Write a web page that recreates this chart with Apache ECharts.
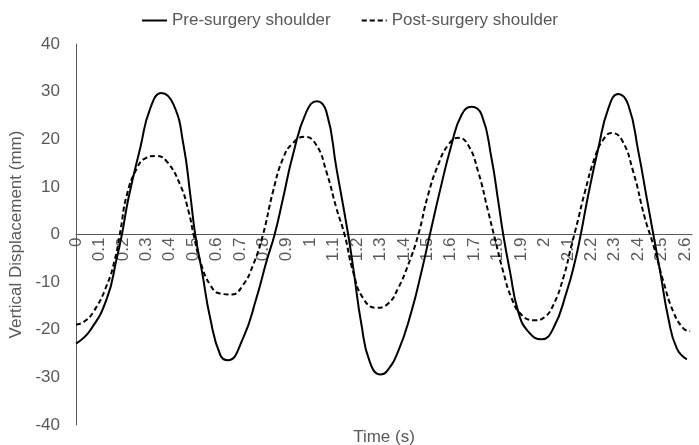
<!DOCTYPE html>
<html>
<head>
<meta charset="utf-8">
<script src="https://cdn.jsdelivr.net/npm/echarts@6/dist/echarts.min.js"></script>
<style>
  html, body { margin: 0; padding: 0; background: #fff; }
  #chart { width: 699px; height: 445px; }
</style>
</head>
<body>
<div id="chart"></div>
<script>
// 数据：从原图读取（时间 s，位移 mm）
var preTime = [0, 0.061, 0.132, 0.174, 0.196, 0.224, 0.274, 0.317, 0.365, 0.417, 0.459, 0.488, 0.509, 0.538, 0.573, 0.616, 0.648,
  0.713, 0.770, 0.813, 0.848, 0.884, 0.926, 0.984, 1.029, 1.069, 1.112, 1.162, 1.185, 1.219, 1.254, 1.300, 1.326,
  1.375, 1.432, 1.475, 1.511, 1.553, 1.603, 1.646, 1.689, 1.732, 1.774, 1.803, 1.824, 1.853, 1.888, 1.931, 1.988,
  2.038, 2.095, 2.130, 2.155, 2.187, 2.230, 2.273, 2.315, 2.358, 2.401, 2.437, 2.465, 2.494, 2.529, 2.565, 2.608]
var preValues = [-22.9, -20.1, -13.4, -5.0, 0, 7.6, 18.1, 26.5, 29.7, 27.2, 18.8, 8.3, 0, -7.8, -17.6, -25.3, -26.4,
  -21.8, -13.4, -5.7, 0, 7.6, 16.7, 25.8, 28.0, 25.8, 13.9, 0, -7.5, -19.0, -26.7, -29.4, -28.8,
  -24.6, -16.2, -7.8, 0, 9.0, 18.8, 25.1, 26.8, 25.1, 16.0, 6.9, 0, -7.8, -16.2, -20.4, -22.0,
  -19.7, -12.0, -5.7, 0, 8.3, 18.1, 26.5, 29.5, 27.2, 17.4, 7.6, 0, -7.8, -17.6, -23.9, -26.2]

var postTime = [0, 0.032, 0.075, 0.132, 0.167, 0.189, 0.217, 0.260, 0.296, 0.343, 0.388, 0.445, 0.481, 0.502, 0.531, 0.573, 0.616, 0.665,
  0.713, 0.756, 0.798, 0.841, 0.884, 0.926, 0.976, 1.026, 1.069, 1.112, 1.147, 1.183, 1.226, 1.283, 1.333,
  1.375, 1.418, 1.461, 1.503, 1.546, 1.589, 1.632, 1.674, 1.717, 1.760, 1.788, 1.824, 1.860, 1.903, 1.959, 2.002,
  2.038, 2.080, 2.116, 2.138, 2.173, 2.216, 2.251, 2.287, 2.330, 2.379, 2.429, 2.465, 2.508, 2.550, 2.593, 2.622]
var postValues = [-18.9, -18.4, -16.2, -10.6, -5.0, 0.6, 8.3, 13.9, 16.0, 16.5, 15.3, 10.4, 4.8, 0, -5.7, -10.6, -12.4, -12.6,
  -10.6, -6.4, -0.1, 9.0, 16.0, 19.2, 20.5, 18.8, 13.2, 5.5, -0.1, -7.8, -13.4, -15.4, -14.5,
  -11.3, -6.4, -0.1, 8.3, 14.6, 18.8, 20.3, 18.8, 13.2, 4.8, -0.8, -7.8, -13.4, -16.9, -18.0, -17.3,
  -14.8, -9.2, -2.2, 2.0, 9.0, 16.3, 19.9, 21.3, 19.9, 13.2, 3.4, -2.2, -9.9, -16.2, -19.7, -20.3]

var seriesNames = ['Pre-surgery shoulder', 'Post-surgery shoulder']
var yTicks = [-40, -30, -20, -10, 0, 10, 20, 30, 40]

function pairs(t, v) {
  return t.map(function (x, i) { return [x, v[i]] })
}

var textColor = '#595959'
var fontSize = 17
var gridTop = 44, gridBottom = 20, gridLeft = 76, gridRight = 7
var plotH = 445 - gridTop - gridBottom
var chart = echarts.init(document.getElementById('chart'))

chart.setOption({
  animation: false,
  legend: {
    top: 7,
    left: 'center',
    itemWidth: 25,
    itemGap: 30,
    itemStyle: { opacity: 0 },
    textStyle: { color: textColor, fontSize: fontSize, fontFamily: 'Liberation Sans' },
    data: seriesNames
  },
  grid: { left: gridLeft, right: gridRight, top: gridTop, bottom: gridBottom, containLabel: false, outerBoundsMode: 'none' },
  xAxis: {
    type: 'value',
    min: 0,
    max: 2.63,
    interval: 0.1,
    offset: -plotH / 2,
    splitLine: { show: false },
    axisTick: { show: false },
    axisLine: { onZero: false, lineStyle: { color: textColor, width: 1 } },
    axisLabel: {
      rotate: 90,
      margin: 3,
      padding: [5, 0, 0, 0],
      showMaxLabel: false,
      color: textColor,
      fontSize: fontSize,
      fontFamily: 'Liberation Sans'
    }
  },
  yAxis: {
    type: 'value',
    min: yTicks[0],
    max: yTicks[yTicks.length - 1],
    interval: 10,
    name: 'Vertical Displacement (mm)',
    nameLocation: 'middle',
    nameGap: 43,
    nameTextStyle: { color: textColor, fontSize: fontSize, fontFamily: 'Liberation Sans' },
    splitLine: { show: false },
    axisTick: { show: false },
    axisLine: { show: true, lineStyle: { color: textColor, width: 1 } },
    axisLabel: { margin: 16, color: textColor, fontSize: fontSize, fontFamily: 'Liberation Sans' }
  },
  graphic: [{
    type: 'text',
    x: gridLeft + (699 - gridLeft - gridRight) / 2,
    y: 437,
    style: {
      text: 'Time (s)',
      fill: textColor,
      fontSize: fontSize,
      fontFamily: 'Liberation Sans',
      align: 'center',
      verticalAlign: 'middle'
    }
  }],
  series: [{
    name: seriesNames[0],
    type: 'line',
    smooth: 0.5,
    symbol: 'none',
    lineStyle: { color: '#000', width: 2, type: 'solid' },
    itemStyle: { color: '#000' },
    data: pairs(preTime, preValues)
  }, {
    name: seriesNames[1],
    type: 'line',
    smooth: 0.5,
    symbol: 'none',
    lineStyle: { color: '#000', width: 2, type: [5, 3] },
    itemStyle: { color: '#000' },
    data: pairs(postTime, postValues)
  }]
})
</script>
</body>
</html>
